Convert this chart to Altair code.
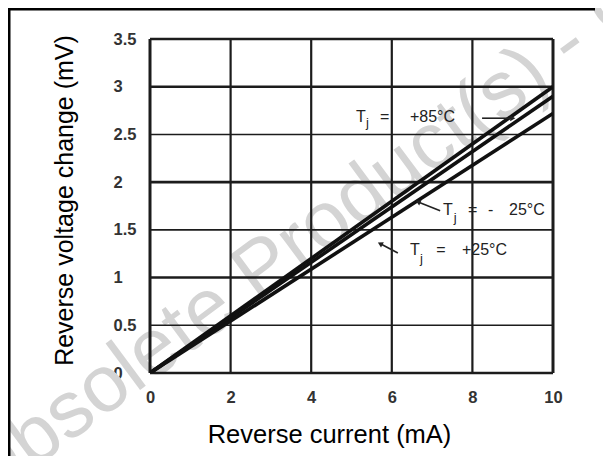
import altair as alt
import pandas as pd

# ---- chart values ----
current_mA = [0, 10]
dv_85 = [0, 3.00]    # Tj = +85 °C
dv_m25 = [0, 2.90]   # Tj = -25 °C
dv_25 = [0, 2.72]    # Tj = +25 °C

x_ticks = [0, 2, 4, 6, 8, 10]
y_ticks = [0, 0.5, 1, 1.5, 2, 2.5, 3, 3.5]
y_major = [0, 1, 2, 3, 3.5]
y_minor = [0.5, 1.5, 2.5]
x_inner = [2, 4, 6, 8]
x_outer = [0, 10]

W, H = 403, 334
FONT = "Liberation Sans"

xs = alt.Scale(domain=[0, 10], nice=False, zero=False)
ys = alt.Scale(domain=[0, 3.5], nice=False, zero=False)

X_AX = alt.Axis(
    values=x_ticks, grid=False, domain=False, ticks=False, tickSize=0,
    labelPadding=24, labelBaseline="middle", labelFlush=False,
    labelFont=FONT, labelFontSize=16.5, labelFontWeight="bold", labelColor="#333",
    title="Reverse current (mA)", titleFont=FONT, titleFontSize=25.5,
    titleFontWeight="normal", titleColor="black", titleX=179, titleY=69,
    titleAlign="center", titleBaseline="alphabetic")
Y_AX = alt.Axis(
    values=y_ticks, grid=False, domain=False, ticks=False, tickSize=0,
    labelExpr="'' + datum.value",
    labelPadding=37, labelAlign="left", labelBaseline="middle", labelFlush=False,
    labelFont=FONT, labelFontSize=16.5, labelFontWeight="bold", labelColor="#333",
    title="Reverse voltage change (mV)", titleFont=FONT, titleFontSize=25,
    titleFontWeight="normal", titleColor="black", titleAngle=270,
    titleX=-78, titleY=161, titleAlign="center", titleBaseline="alphabetic")

lines_df = pd.DataFrame({
    "i": current_mA * 3,
    "v": dv_85 + dv_m25 + dv_25,
    "s": ["+85"] * 2 + ["-25"] * 2 + ["+25"] * 2,
})

# watermark
wm = alt.Chart(alt.Data(values=[{"t": "Obsolete Product(s) - Obsolete Product(s)"}])).mark_text(
    font=FONT, fontSize=80, color="#d4d4d4", align="left", baseline="alphabetic", angle=323.5
).encode(x=alt.value(-168), y=alt.value(468), text="t:N")

# outer frame (left and top edges of the scanned figure)
frame_left = alt.Chart(alt.Data(values=[{}])).mark_rule(color="black", strokeWidth=3).encode(
    x=alt.value(-141), y=alt.value(-31), y2=alt.value(H + 83))
frame_top = alt.Chart(alt.Data(values=[{}])).mark_rule(color="black", strokeWidth=3).encode(
    y=alt.value(-30), x=alt.value(-142), x2=alt.value(445))

gcol = "#1c1c1c"
g_major = alt.Chart(pd.DataFrame({"y": y_major})).mark_rule(color=gcol, strokeWidth=2.6).encode(
    y=alt.Y("y:Q", scale=ys, axis=Y_AX))
g_minor = alt.Chart(pd.DataFrame({"y": y_minor})).mark_rule(color=gcol, strokeWidth=1.6).encode(
    y=alt.Y("y:Q", scale=ys, axis=Y_AX))
g_inner = alt.Chart(pd.DataFrame({"x": x_inner})).mark_rule(color=gcol, strokeWidth=2.2).encode(
    x=alt.X("x:Q", scale=xs, axis=X_AX))
g_outer = alt.Chart(pd.DataFrame({"x": x_outer})).mark_rule(color=gcol, strokeWidth=3).encode(
    x=alt.X("x:Q", scale=xs, axis=X_AX))

lines = alt.Chart(lines_df).mark_line(color="#111", strokeWidth=3.6, clip=True).encode(
    x=alt.X("i:Q", scale=xs, axis=X_AX),
    y=alt.Y("v:Q", scale=ys, axis=Y_AX),
    detail="s:N",
)

# annotation texts (data coordinates)
ann_main = pd.DataFrame({
    "x": [5.11, 5.71, 6.45, 7.27, 7.89, 8.39, 8.91, 6.45, 7.10, 7.74],
    "y": [2.68, 2.68, 2.68, 1.708, 1.708, 1.708, 1.708, 1.289, 1.289, 1.289],
    "t": ["T", "=", "+85°C", "T", "=", "-", "25°C", "T", "=", "+25°C"],
})
ann_sub = pd.DataFrame({
    "x": [5.36, 7.54, 6.70],
    "y": [2.62, 1.624, 1.195],
    "t": ["j", "j", "j"],
})
t_main = alt.Chart(ann_main).mark_text(font=FONT, fontSize=16, color="#222", align="left",
                                       baseline="middle").encode(
    x=alt.X("x:Q", scale=xs, axis=X_AX), y=alt.Y("y:Q", scale=ys, axis=Y_AX), text="t:N")
t_sub = alt.Chart(ann_sub).mark_text(font=FONT, fontSize=13, color="#222", align="left",
                                     baseline="middle").encode(
    x=alt.X("x:Q", scale=xs, axis=X_AX), y=alt.Y("y:Q", scale=ys, axis=Y_AX), text="t:N")

arrows = pd.DataFrame({
    "x": [8.24, 7.20, 6.15], "x2": [8.98, 6.67, 5.73],
    "y": [2.67, 1.70, 1.257], "y2": [2.67, 1.79, 1.352],
    "a": [90, 293, 298],
})
a_lines = alt.Chart(arrows).mark_rule(color="#222", strokeWidth=1.6).encode(
    x=alt.X("x:Q", scale=xs, axis=X_AX), x2="x2", y=alt.Y("y:Q", scale=ys, axis=Y_AX), y2="y2")
a_heads = alt.Chart(arrows).mark_point(shape="triangle", filled=True, color="#222", size=35,
                                       opacity=1).encode(
    x=alt.X("x2:Q", scale=xs, axis=X_AX), y=alt.Y("y2:Q", scale=ys, axis=Y_AX),
    angle=alt.Angle("a:Q", scale=None))

chart = alt.layer(
    wm, frame_left, frame_top, g_minor, g_inner, g_major, g_outer, lines,
    t_main, t_sub, a_lines, a_heads
).properties(
    width=W, height=H,
    padding={"left": 142, "top": 31, "right": 50, "bottom": 83},
    autosize=alt.AutoSizeParams(type="none"),
    background="white",
).configure_view(stroke=None)

chart.save("out.html", embed_options={"renderer": "svg", "actions": False})
